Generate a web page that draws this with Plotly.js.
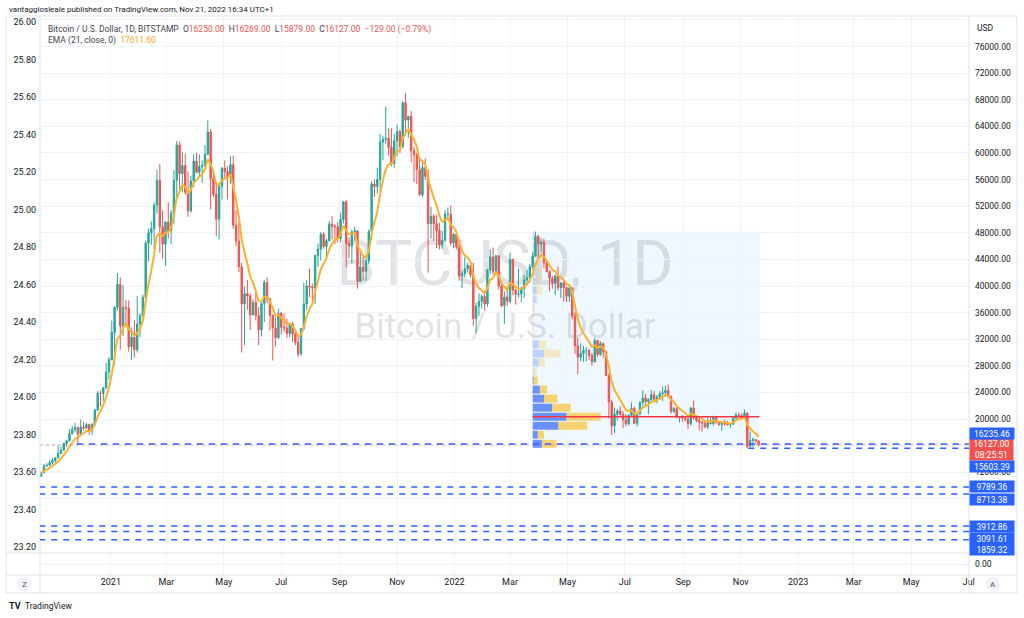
<!DOCTYPE html>
<html><head><meta charset="utf-8">
<script src="https://cdn.plot.ly/plotly-3.0.1.min.js"></script>
<style>html,body{margin:0;padding:0;background:#fff;}#chart{width:1024px;height:618px;}</style>
</head><body><div id="chart"></div>
<script>
// ---------- DATA (BTC/USD, Bitstamp, 3-day candles, prices in thousands USD) ----------
const periodStart = '2020-10-18';
const periodDays = 3;
const opens = [
11.36,11.92,12.93,13.03,13.45,13.76,14.15,14.83,15.3,16.32,
16.72,17.82,18.42,18.72,17.72,18.78,18.65,19.17,18.25,19.17,
21.35,23.86,23.83,24.71,27.08,28.95,33.0,36.8,40.25,34.0,
36.8,36.65,30.85,32.3,30.4,34.3,35.5,38.3,46.45,48.0,
48.6,52.15,55.9,48.9,46.3,49.6,48.35,50.95,55.9,61.2,
56.9,58.1,54.1,51.3,55.8,58.8,57.1,57.95,58.1,59.8,
63.15,56.15,53.8,50.05,55.0,57.7,57.2,56.4,58.25,49.15,
46.75,42.9,37.3,38.85,38.5,35.65,37.55,35.55,33.4,37.35,
40.55,38.1,35.6,33.7,32.25,35.9,33.8,33.7,32.85,34.25,
32.8,31.5,29.8,33.6,37.3,40.0,39.85,39.7,44.6,45.55,
47.8,45.95,46.8,49.3,48.95,48.9,47.15,50.0,52.65,46.4,
46.05,48.15,48.3,40.7,42.85,42.2,43.8,48.2,55.35,54.95,
56.0,61.65,62.05,62.2,60.85,58.45,61.85,63.25,61.0,67.55,
64.95,65.5,60.35,59.75,57.55,53.7,57.8,56.5,49.4,50.5,
49.35,48.35,46.2,46.9,50.8,50.8,46.45,47.75,45.85,41.55,
41.85,42.6,43.1,41.7,35.1,36.95,37.7,38.45,37.3,42.4,
44.4,42.2,44.55,40.0,37.05,38.35,37.7,44.0,39.4,38.75,
38.8,39.65,40.9,41.25,42.9,44.5,47.45,46.3,46.6,43.45,
42.15,41.15,40.4,41.5,39.75,40.45,39.75,38.45,39.7,35.5,
31.0,29.3,29.85,30.3,30.3,29.55,28.6,31.8,29.7,31.35,
30.1,26.55,22.55,19.0,20.7,21.2,20.7,19.9,19.3,20.55,
21.6,19.35,20.85,22.45,23.15,22.6,22.95,23.65,22.98,23.3,
23.8,23.95,24.3,23.35,21.15,21.55,20.25,20.3,20.15,20.0,
19.3,21.65,20.2,19.8,19.55,19.4,18.8,19.45,19.3,20.35,
19.55,19.15,19.4,19.25,19.15,19.2,20.1,20.6,20.5,20.2,
20.9,15.9,16.8,16.9,16.7];
const highs = [
12.0,13.24,13.35,13.86,14.1,14.25,15.97,15.84,16.48,16.88,
18.48,18.95,19.42,18.9,19.9,19.56,19.42,19.3,19.4,21.55,
24.2,24.28,24.79,28.4,29.3,34.8,36.9,41.95,41.3,40.1,
37.9,37.85,33.8,34.85,38.5,35.9,38.7,46.8,48.6,49.7,
52.6,57.5,58.35,51.4,49.8,52.6,51.4,57.4,61.8,61.7,
60.1,59.9,57.2,56.6,59.8,60.0,59.8,58.9,61.2,64.9,
63.6,57.2,55.4,55.5,57.9,58.9,58.0,59.5,59.6,51.4,
49.7,43.5,39.9,40.9,38.9,38.0,39.5,36.8,37.5,40.9,
41.3,38.2,35.7,35.3,36.6,36.1,35.9,35.1,34.5,34.6,
33.2,32.4,33.7,40.5,40.9,42.6,40.4,44.7,46.4,48.1,
48.1,47.1,49.8,50.5,49.3,49.6,51.0,52.8,52.95,47.3,
48.5,48.9,48.4,45.0,44.4,44.1,48.5,55.75,56.0,57.8,
62.9,62.6,67.0,63.7,63.7,62.9,64.3,63.5,67.8,69.0,
65.6,66.3,60.9,60.0,59.4,58.9,59.2,57.6,51.9,50.8,
50.7,49.5,48.3,51.4,51.8,52.1,48.0,47.9,47.0,42.3,
44.4,43.5,43.2,43.5,37.5,38.9,38.7,39.3,42.6,45.5,
45.8,44.7,44.6,40.4,39.2,40.0,45.0,44.1,39.6,42.6,
39.9,41.7,42.4,43.3,45.1,48.2,47.7,47.2,47.1,43.9,
42.4,41.5,41.7,42.9,40.6,40.8,39.9,39.9,39.8,36.1,
32.2,31.4,31.0,30.8,30.6,29.9,32.2,31.9,31.7,31.5,
30.3,26.9,22.9,21.7,21.5,21.9,21.2,20.7,20.7,22.5,
21.9,20.9,22.7,24.3,23.8,23.1,24.4,24.2,23.6,24.2,
24.9,25.0,25.2,23.6,21.8,21.8,20.4,20.6,20.4,20.2,
21.8,22.8,20.5,20.2,19.65,19.5,20.4,20.2,20.5,20.45,
19.6,19.5,19.95,19.7,19.3,20.4,21.0,21.0,20.8,21.45,
21.0,18.1,17.2,17.0,16.8];
const lows = [
11.3,11.9,12.88,12.95,13.13,13.2,14.1,14.7,15.27,15.8,
16.65,17.65,18.0,16.33,17.6,18.3,18.55,17.6,17.58,19.0,
21.2,21.9,22.7,24.5,25.9,28.8,28.1,36.3,30.4,32.5,
33.9,30.1,28.9,29.25,30.0,32.3,35.4,37.4,43.7,46.2,
45.6,50.9,45.0,44.1,43.0,47.1,46.3,49.3,53.0,54.6,
54.1,53.7,50.4,51.0,54.9,56.9,56.5,55.5,57.9,59.7,
51.5,53.4,47.5,47.0,53.0,56.0,53.0,55.3,48.6,46.0,
42.1,30.0,31.1,36.4,33.4,35.6,34.8,31.1,32.4,34.6,
37.4,33.3,28.8,30.9,32.0,32.7,33.1,32.2,32.3,31.6,
31.1,29.3,29.5,33.4,36.4,38.3,37.6,37.3,42.9,43.8,
45.6,43.9,46.7,47.0,46.3,46.5,46.6,49.4,42.8,44.2,
43.4,46.8,39.6,40.6,40.8,40.8,43.3,46.9,53.4,53.9,
54.2,58.9,61.4,59.6,58.0,57.8,59.5,60.0,60.7,62.8,
62.3,58.6,55.6,55.3,53.6,53.3,55.9,42.0,47.1,46.8,
45.7,45.5,45.6,46.6,49.9,46.1,45.7,45.5,40.8,39.7,
41.3,42.0,41.3,34.0,32.9,35.5,36.6,36.3,36.9,41.8,
41.7,41.6,39.5,36.8,34.3,37.0,37.4,38.6,37.2,38.3,
37.6,38.2,40.2,40.5,42.6,44.4,44.2,45.1,42.7,42.1,
39.2,39.6,38.6,39.3,38.2,37.7,37.6,37.6,35.0,29.8,
26.7,28.7,28.6,28.7,28.9,28.0,28.5,29.3,29.5,29.2,
26.5,20.1,17.6,17.9,19.8,20.5,18.6,18.9,19.0,20.3,
19.2,18.9,20.5,21.9,21.9,20.7,22.6,22.7,22.4,22.9,
22.7,23.6,23.2,20.8,20.9,20.1,19.5,19.6,19.65,18.5,
19.0,19.9,19.5,18.3,18.1,18.6,18.5,19.2,19.0,19.3,
19.0,18.2,19.0,19.1,18.7,19.15,20.0,20.2,20.05,20.15,
15.6,15.8,15.8,16.4,15.88];
const closes = [
11.92,12.93,13.03,13.45,13.76,14.15,14.83,15.3,16.32,16.72,
17.82,18.42,18.72,17.72,18.78,18.65,19.17,18.25,19.17,21.35,
23.86,23.83,24.71,27.08,28.95,33.0,36.8,40.25,34.0,36.8,
36.65,30.85,32.3,30.4,34.3,35.5,38.3,46.45,48.0,48.6,
52.15,55.9,48.9,46.3,49.6,48.35,50.95,55.9,61.2,56.9,
58.1,54.1,51.3,55.8,58.8,57.1,57.95,58.1,59.8,63.15,
56.15,53.8,50.05,55.0,57.7,57.2,56.4,58.25,49.15,46.75,
42.9,37.3,38.85,38.5,35.65,37.55,35.55,33.4,37.35,40.55,
38.1,35.6,33.7,32.25,35.9,33.8,33.7,32.85,34.25,32.8,
31.5,29.8,33.6,37.3,40.0,39.85,39.7,44.6,45.55,47.8,
45.95,46.8,49.3,48.95,48.9,47.15,50.0,52.65,46.4,46.05,
48.15,48.3,40.7,42.85,42.2,43.8,48.2,55.35,54.95,56.0,
61.65,62.05,62.2,60.85,58.45,61.85,63.25,61.0,67.55,64.95,
65.5,60.35,59.75,57.55,53.7,57.8,56.5,49.4,50.5,49.35,
48.35,46.2,46.9,50.8,50.8,46.45,47.75,45.85,41.55,41.85,
42.6,43.1,41.7,35.1,36.95,37.7,38.45,37.3,42.4,44.4,
42.2,44.55,40.0,37.05,38.35,37.7,44.0,39.4,38.75,38.8,
39.65,40.9,41.25,42.9,44.5,47.45,46.3,46.6,43.45,42.15,
41.15,40.4,41.5,39.75,40.45,39.75,38.45,39.7,35.5,31.0,
29.3,29.85,30.3,30.3,29.55,28.6,31.8,29.7,31.35,30.1,
26.55,22.55,19.0,20.7,21.2,20.7,19.9,19.3,20.55,21.6,
19.35,20.85,22.45,23.15,22.6,22.95,23.65,22.98,23.3,23.8,
23.95,24.3,23.35,21.15,21.55,20.25,20.3,20.15,20.0,19.3,
21.65,20.2,19.8,19.55,19.4,18.8,19.45,19.3,20.35,19.55,
19.15,19.4,19.25,19.15,19.2,20.1,20.6,20.5,20.2,20.9,
15.9,16.8,16.9,16.7,16.13];
const emaPeriodBars = 7; // 21 days expressed in 3-day bars

// Fixed-range volume profile (Mar 25 - Nov 21 2022), 24 rows between range low/high
const vpStartDate = '2022-03-25';
const vpEndDate = '2022-11-21';
const vpLow = 15.59, vpHigh = 48.19;
const vpUp =   [9,5,25,33,19,11,7,1,1,6,11,6,0.5,0.5,0.5,1,3,4,3,3,2,2,2,1];
const vpDown = [14,6,28,33,18,13,7,4,3,6,16,7,0.5,0.5,0.5,1,2,5,3,3,3,2,2,1];
const vpValueArea = [1,1,1,1,1,1,1,1,0,0,0,0,0,0,0,0,0,0,0,0,0,0,0,0];

// Horizontal level lines (USD) and where they start
const levelValues = [16235.46, 15603.39, 9789.36, 8713.38, 3912.86, 3091.61, 1859.32];
const levelStarts = ['2020-11-26','2022-11-09','2020-10-17','2020-10-17','2020-10-17','2020-10-17','2020-10-17'];
const lastPrice = 16127.00;

// Axis ticks
const xTickVals = ['2021-01-01','2021-03-01','2021-05-01','2021-07-01','2021-09-01','2021-11-01','2022-01-01','2022-03-01','2022-05-01','2022-07-01','2022-09-01','2022-11-01','2023-01-01','2023-03-01','2023-05-01','2023-07-01'];
const xTickText = ['2021','Mar','May','Jul','Sep','Nov','2022','Mar','May','Jul','Sep','Nov','2023','Mar','May','Jul'];
const leftTickVals = [23.2,23.4,23.6,23.8,24.0,24.2,24.4,24.6,24.8,25.0,25.2,25.4,25.6,25.8,26.0];
const leftTickText = ['23.20','23.40','23.60','23.80','24.00','24.20','24.40','24.60','24.80','25.00','25.20','25.40','25.60','25.80','26.00'];
const priceTickVals = [0,4,8,12,16,20,24,28,32,36,40,44,48,52,56,60,64,68,72,76,80];
const priceTickText = ['','','','12000.00','','20000.00','24000.00','28000.00','32000.00','36000.00','40000.00','44000.00','48000.00','52000.00','56000.00','60000.00','64000.00','68000.00','72000.00','76000.00',''];

// ---------- BUILD ----------
const DAY = 86400000;
function dstr(ms){ return new Date(ms).toISOString().slice(0,19).replace('T',' '); }
const t0 = Date.parse(periodStart + 'T00:00:00Z');
const dates = closes.map((_, i) => dstr(t0 + (i * periodDays + 1) * DAY));

const ema = [];
const alpha = 2 / (emaPeriodBars + 1);
closes.forEach((c, i) => { ema.push(i === 0 ? c : alpha * c + (1 - alpha) * ema[i - 1]); });

const vpStart = Date.parse(vpStartDate + 'T00:00:00Z');
const vpEnd = Date.parse(vpEndDate + 'T00:00:00Z');
const nRows = vpUp.length;
const rowH = (vpHigh - vpLow) / nRows;
const rowCenters = vpUp.map((_, i) => vpLow + (i + 0.5) * rowH);
const totals = vpUp.map((u, i) => u + vpDown[i]);
const maxTot = Math.max(...totals);
const fullLen = 0.3 * (vpEnd - vpStart);
const upLen = vpUp.map(v => v / maxTot * fullLen);
const downLen = vpDown.map(v => v / maxTot * fullLen);
const upBase = upLen.map(() => dstr(vpStart));
const downBase = upLen.map(l => dstr(vpStart + l));
const pocIdx = totals.indexOf(maxTot);

const xStart = '2020-10-17 18:00', xEnd = '2023-07-01 12:00';

// pixel helpers for layout (plot area 40..969 x 16..575)
const PL = 40, PR = 969, PT = 16, PB = 575;
const px = x => (x - PL) / (PR - PL);
const py = y => (PB - y) / (PB - PT);
const mainBottom = py(553);

const traces = [
  // empty traces so that the left pane axis and the lower pane exist as subplots
  { type:'scatter', mode:'lines', x:[xStart], y:[null], xaxis:'x', yaxis:'y', hoverinfo:'skip' },
  { type:'scatter', mode:'lines', x:[xStart], y:[null], xaxis:'x', yaxis:'y3', hoverinfo:'skip' },
  { type:'bar', orientation:'h', y:rowCenters, x:upLen, base:upBase, width:rowH*0.88,
    marker:{color:vpValueArea.map(v => v ? 'rgba(41,98,255,0.68)' : 'rgba(41,98,255,0.25)'), line:{width:0}},
    xaxis:'x', yaxis:'y2', hoverinfo:'skip' },
  { type:'bar', orientation:'h', y:rowCenters, x:downLen, base:downBase, width:rowH*0.88,
    marker:{color:vpValueArea.map(v => v ? 'rgba(251,192,45,0.68)' : 'rgba(251,192,45,0.28)'), line:{width:0}},
    xaxis:'x', yaxis:'y2', hoverinfo:'skip' },
  { type:'candlestick', x:dates, open:opens, high:highs, low:lows, close:closes,
    xaxis:'x', yaxis:'y2', whiskerwidth:0,
    increasing:{line:{color:'#26a69a', width:1}, fillcolor:'#26a69a'},
    decreasing:{line:{color:'#ef5350', width:1}, fillcolor:'#ef5350'},
    hoverinfo:'skip' },
  { type:'scatter', mode:'lines', x:dates, y:ema, xaxis:'x', yaxis:'y2',
    line:{color:'#fab12d', width:2, shape:'spline', smoothing:0.6}, hoverinfo:'skip' }
];

const frame = '#e0e3eb';
const shapes = [
  // watermark
  { type:'rect', xref:'paper', yref:'paper', x0:px(300), x1:px(710), y0:py(292), y1:py(224), layer:'below',
    line:{width:0}, fillcolor:'rgba(0,0,0,0)',
    label:{text:'BTCUSD, 1D', textposition:'middle center', font:{family:'Roboto, sans-serif', size:63, color:'rgba(149,152,161,0.28)'}} },
  { type:'rect', xref:'paper', yref:'paper', x0:px(330), x1:px(680), y0:py(344), y1:py(302), layer:'below',
    line:{width:0}, fillcolor:'rgba(0,0,0,0)',
    label:{text:'Bitcoin / U.S. Dollar', textposition:'middle center', font:{family:'Roboto, sans-serif', size:35, color:'rgba(149,152,161,0.28)'}} },
  // volume profile range box
  { type:'rect', xref:'x', yref:'y2', x0:dstr(vpStart), x1:dstr(vpEnd), y0:vpLow, y1:vpHigh, layer:'below',
    line:{width:0}, fillcolor:'rgba(33,150,243,0.07)' },
  // POC
  { type:'line', xref:'x', yref:'y2', x0:dstr(vpStart), x1:dstr(vpEnd), y0:rowCenters[pocIdx], y1:rowCenters[pocIdx],
    line:{color:'#f23645', width:1.5} },
  // last price dotted line
  { type:'line', xref:'x', yref:'y2', x0:xStart, x1:xEnd, y0:lastPrice/1000, y1:lastPrice/1000,
    line:{color:'rgba(239,83,80,0.55)', width:1, dash:'dot'} },
  // frame
  { type:'rect', xref:'paper', yref:'paper', x0:px(6), x1:px(1017), y0:py(593), y1:py(16), line:{color:frame, width:1}, fillcolor:'rgba(0,0,0,0)' },
  { type:'line', xref:'paper', yref:'paper', x0:0, x1:0, y0:py(593), y1:py(16), line:{color:frame, width:1} },
  { type:'line', xref:'paper', yref:'paper', x0:1, x1:1, y0:py(593), y1:py(16), line:{color:frame, width:1} },
  { type:'line', xref:'paper', yref:'paper', x0:px(6), x1:px(1017), y0:py(553), y1:py(553), line:{color:frame, width:1} },
  { type:'line', xref:'paper', yref:'paper', x0:px(6), x1:px(1017), y0:py(575), y1:py(575), line:{color:frame, width:1} },
  // buttons
  { type:'circle', xref:'paper', yref:'paper', x0:px(17), x1:px(31), y0:py(591), y1:py(577), line:{width:0}, fillcolor:'#f0f3fa' },
  { type:'circle', xref:'paper', yref:'paper', x0:px(986), x1:px(1000), y0:py(591), y1:py(577), line:{width:0}, fillcolor:'#f0f3fa' }
];
levelValues.forEach((v, i) => {
  shapes.push({ type:'line', xref:'x', yref:'y2', x0:levelStarts[i], x1:xEnd, y0:v/1000, y1:v/1000,
    line:{color:'#2962ff', width:1.5, dash:'6px,6px'} });
});

const red = '#ef5350';
const sp = s => `<span style="color:${red}">${s}</span>`;
const annotations = [
  { xref:'paper', yref:'paper', x:px(7), y:py(9), xanchor:'left', yanchor:'middle', showarrow:false,
    text:'vantaggiosleale published on TradingView.com, Nov 21, 2022 16:34 UTC+1', font:{size:8, color:'#131722'} },
  { xref:'paper', yref:'paper', x:px(46), y:py(29), xanchor:'left', yanchor:'middle', showarrow:false,
    text:'Bitcoin / U.S. Dollar, 1D, BITSTAMP&nbsp;&nbsp;O' + sp('16250.00') + '&nbsp;&nbsp;H' + sp('16269.00') + '&nbsp;&nbsp;L' + sp('15879.00') + '&nbsp;&nbsp;C' + sp('16127.00') + '&nbsp;&nbsp;' + sp('−129.00 (−0.79%)'),
    font:{size:8.5, color:'#434651'} },
  { xref:'paper', yref:'paper', x:px(46), y:py(41), xanchor:'left', yanchor:'middle', showarrow:false,
    text:'EMA (21, close, 0)&nbsp;&nbsp;<span style="color:#f9a825">17611.60</span>', font:{size:8.5, color:'#434651'} },
  { xref:'paper', yref:'paper', x:px(975), y:py(28), xanchor:'left', yanchor:'middle', showarrow:false,
    text:'USD', font:{size:8.5, color:'#131722'} },
  { xref:'paper', yref:'paper', x:px(24), y:py(584), xanchor:'center', yanchor:'middle', showarrow:false,
    text:'Z', font:{size:8, color:'#50535e'} },
  { xref:'paper', yref:'paper', x:px(993), y:py(584), xanchor:'center', yanchor:'middle', showarrow:false,
    text:'A', font:{size:8, color:'#50535e'} },
  { xref:'paper', yref:'paper', x:px(7), y:py(606), xanchor:'left', yanchor:'middle', showarrow:false,
    text:'<b>TV</b>', font:{size:9, color:'#131722'} },
  { xref:'paper', yref:'paper', x:px(23), y:py(606), xanchor:'left', yanchor:'middle', showarrow:false,
    text:'TradingView', font:{size:8.5, color:'#131722'} },
  // last price label
  { xref:'paper', yref:'y2', x:1, y:lastPrice/1000, xanchor:'left', yanchor:'middle', yshift:-5, showarrow:false,
    text:'16127.00<br>08:25:51', bgcolor:red, width:43, height:21, borderpad:0,
    font:{size:8.5, color:'#ffffff'} }
];
const labelShift = [11, -18, 0, -5, -1, -7, -10];
levelValues.forEach((v, i) => {
  annotations.push({ xref:'paper', yref:'y2', x:1, y:v/1000, xanchor:'left', yanchor:'middle', yshift:labelShift[i],
    showarrow:false, text:v.toFixed(2), bgcolor:'#2962ff', width:43, height:10, borderpad:0.5,
    font:{size:8.5, color:'#ffffff'} });
});

const layout = {
  width:1024, height:618,
  margin:{l:PL, r:1024-PR, t:PT, b:618-PB, pad:0},
  paper_bgcolor:'#ffffff', plot_bgcolor:'rgba(0,0,0,0)',
  showlegend:false, hovermode:false, dragmode:false, barmode:'overlay',
  font:{family:'Roboto, sans-serif', size:9, color:'#131722'},
  xaxis:{ type:'date', range:[xStart, xEnd], anchor:'y3', tickvals:xTickVals, ticktext:xTickText,
    showgrid:true, gridcolor:'#f0f3fa', zeroline:false, showline:false, ticks:'',
    tickfont:{size:9, color:'#131722'}, rangeslider:{visible:false}, fixedrange:true },
  yaxis:{ domain:[mainBottom, 1], anchor:'x', range:[23.168, 26.032], tickvals:leftTickVals, ticktext:leftTickText,
    showgrid:false, zeroline:false, showline:false, ticks:'', ticklabelstandoff:3,
    tickfont:{size:9, color:'#131722'}, fixedrange:true },
  yaxis2:{ overlaying:'y', side:'right', anchor:'x', domain:[mainBottom, 1], range:[-0.15, 80.6], tickvals:priceTickVals, ticktext:priceTickText,
    showgrid:true, gridcolor:'#f0f3fa', zeroline:false, showline:false, ticks:'', ticklabelstandoff:5,
    tickfont:{size:8.5, color:'#131722'}, fixedrange:true },
  yaxis3:{ domain:[0, mainBottom], anchor:'x', side:'right', range:[-1, 1], tickvals:[0], ticktext:['0.00'],
    showgrid:true, gridcolor:'#f0f3fa', zeroline:false, showline:false, ticks:'', ticklabelstandoff:5,
    tickfont:{size:8.5, color:'#131722'}, fixedrange:true },
  shapes, annotations
};

Plotly.newPlot('chart', traces, layout, {staticPlot:true, displayModeBar:false});
</script>
</body></html>
